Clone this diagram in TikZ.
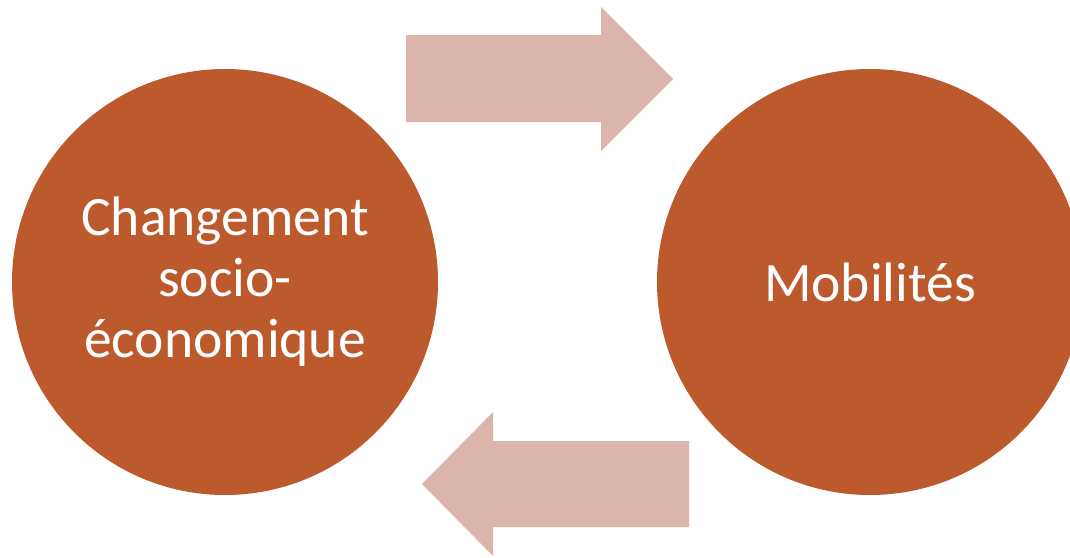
\documentclass[tikz,border=0pt]{standalone}
\usepackage{fontspec}
\setmainfont{Carlito}
\definecolor{rouille}{HTML}{BC592D}
\definecolor{rosepale}{HTML}{DBB5AB}
\tikzset{
  rond/.style={circle,fill=rouille,minimum size=213pt,inner sep=0pt,
    text=white,align=center,font=\fontsize{27.8}{30.5}\selectfont},
  fleche/.style={fill=rosepale,draw=none}
}
\begin{document}
\begin{tikzpicture}[x=0.5pt,y=-0.5pt]
  \useasboundingbox (0,0) rectangle (1070,557);
  \begin{scope}
    \clip (0,0) rectangle (1070,557);
    \node[rond] (changement) at (225,282) {Changement\\socio-\\économique};
    \node[rond] (mobilites) at (870,282) {Mobilités};
  \end{scope}
  % fleche du haut
  \fill[fleche] (406,35) -- (601,35) -- (601,7) -- (673,79) -- (601,151) -- (601,122) -- (406,122) -- cycle;
  % fleche du bas
  \fill[fleche] (689,441) -- (493,441) -- (493,412) -- (422,484) -- (493,556) -- (493,527) -- (689,527) -- cycle;
\end{tikzpicture}
\end{document}
